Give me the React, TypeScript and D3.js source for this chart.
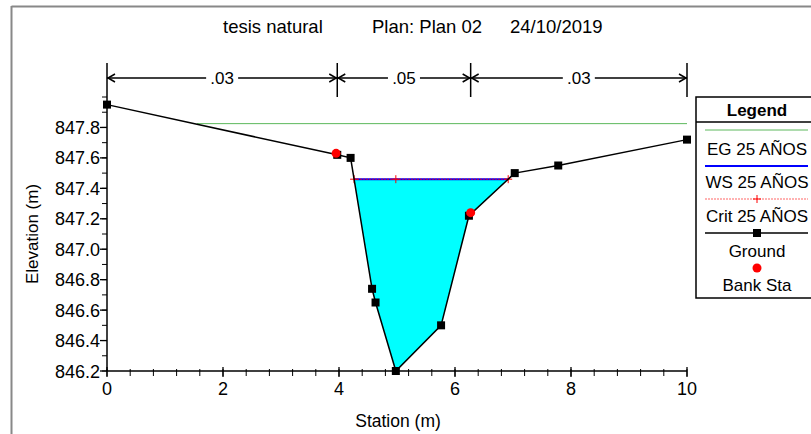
import React from "react";
import * as d3 from "d3";

const stations = [0, 3.97, 4.2, 4.57, 4.63, 4.98, 5.76, 6.24, 7.03, 7.78, 10];
const elevations = [847.95, 847.62, 847.6, 846.74, 846.65, 846.2, 846.5, 847.22, 847.5, 847.55, 847.72];
const bankStations = [3.95, 6.27];
const bankElevations = [847.63, 847.24];
const wsElev = 847.46;
const critElev = 847.46;
const critStations = [4.98];
const egElev = 847.825;
const egStart = 1.55;
const nValues = [".03", ".05", ".03"];
const nBreaks = [0, 3.97, 6.27, 10];
const xTickLabels = [0, 2, 4, 6, 8, 10];
const yTickLabels = [846.2, 846.4, 846.6, 846.8, 847.0, 847.2, 847.4, 847.6, 847.8];
const legendItems = ["EG 25 AÑOS", "WS 25 AÑOS", "Crit 25 AÑOS", "Ground", "Bank Sta"];

const FONT = "'Liberation Sans', Arial, sans-serif";

export default function App() {
  const x = d3.scaleLinear().domain([0, 10]).range([107, 687]);
  const y = d3.scaleLinear().domain([846.2, 848.0]).range([371, 97]);
  const ground = stations.map((s, i) => [s, elevations[i]] as [number, number]);
  const line = d3.line<[number, number]>().x(d => x(d[0])).y(d => y(d[1]));

  // water surface intersections
  const crossings: number[] = [];
  for (let i = 0; i < ground.length - 1; i++) {
    const [s0, e0] = ground[i];
    const [s1, e1] = ground[i + 1];
    if ((e0 - wsElev) * (e1 - wsElev) < 0) {
      const t = (wsElev - e0) / (e1 - e0);
      crossings.push(s0 + t * (s1 - s0));
    }
  }
  const wl = crossings[0];
  const wr = crossings[crossings.length - 1];
  const waterPts: [number, number][] = [[wl, wsElev]];
  ground.forEach(p => { if (p[0] > wl && p[0] < wr) waterPts.push(p); });
  waterPts.push([wr, wsElev]);

  const xMinor = d3.range(0, 10.001, 0.4);
  const yMinor = d3.range(846.2, 848.001, 0.1);
  const critPts = [wl, ...critStations, wr];

  const dimY = 78;
  const plus = (cx: number, cy: number, k: string) => (
    <g key={k} stroke="#ff0000" strokeWidth={1}>
      <line x1={cx - 4} x2={cx + 4} y1={cy} y2={cy} />
      <line x1={cx} x2={cx} y1={cy - 4} y2={cy + 4} />
    </g>
  );

  const lgX0 = 705, lgX1 = 808, lgC = 757;

  return (
    <div style={{ position: "absolute", left: 0, top: 0 }}>
      <svg width={811} height={434} style={{ display: "block", fontFamily: FONT }}>
        <rect x={0} y={0} width={811} height={434} fill="#fff" />
        {/* outer frame */}
        <line x1={11.5} x2={811} y1={6.5} y2={6.5} stroke="#888" strokeWidth={2} />
        <line x1={11.5} x2={11.5} y1={6} y2={434} stroke="#888" strokeWidth={2} />

        {/* title */}
        <text x={223} y={33} fontSize={18.5} fill="#000">tesis natural</text>
        <text x={372} y={33} fontSize={18.5} fill="#000">Plan: Plan 02</text>
        <text x={510} y={33} fontSize={18.5} fill="#000">24/10/2019</text>

        {/* dimension lines */}
        {nBreaks.map((b, i) => (
          <line key={"v" + i} x1={x(b)} x2={x(b)} y1={63} y2={97} stroke="#000" strokeWidth={1.5} />
        ))}
        {nValues.map((v, i) => {
          const a = x(nBreaks[i]);
          const b = x(nBreaks[i + 1]);
          const c = (a + b) / 2;
          const tw = 32;
          return (
            <g key={"n" + i}>
              <line x1={a} x2={c - tw / 2} y1={dimY} y2={dimY} stroke="#000" strokeWidth={1.3} />
              <line x1={c + tw / 2} x2={b} y1={dimY} y2={dimY} stroke="#000" strokeWidth={1.3} />
              <path d={`M${a + 8},${dimY - 4} L${a + 1},${dimY} L${a + 8},${dimY + 4}`} fill="none" stroke="#000" strokeWidth={1.5} />
              <path d={`M${b - 8},${dimY - 4} L${b - 1},${dimY} L${b - 8},${dimY + 4}`} fill="none" stroke="#000" strokeWidth={1.5} />
              <text x={c} y={dimY + 6} fontSize={17} textAnchor="middle" fill="#000">{v}</text>
            </g>
          );
        })}

        {/* water fill */}
        <path d={line(waterPts) + "Z"} fill="#00ffff" stroke="none" />

        {/* EG */}
        <line x1={x(egStart)} x2={x(10)} y1={y(egElev)} y2={y(egElev)} stroke="#5cb85c" strokeWidth={1} />
        {/* WS */}
        <line x1={x(wl)} x2={x(wr)} y1={y(wsElev)} y2={y(wsElev)} stroke="#0000ff" strokeWidth={2} />
        {/* Crit */}
        <line x1={x(wl)} x2={x(wr)} y1={y(critElev)} y2={y(critElev)} stroke="#ff0000" strokeWidth={1} strokeDasharray="2,1" opacity={0.8} />
        {critPts.map((s, i) => plus(x(s), y(critElev), "c" + i))}

        {/* ground */}
        <path d={line(ground) || ""} fill="none" stroke="#000" strokeWidth={1.5} />
        {ground.map((p, i) => (
          <rect key={"g" + i} x={x(p[0]) - 4} y={y(p[1]) - 4} width={8} height={8} fill="#000" />
        ))}
        {bankStations.map((s, i) => (
          <circle key={"b" + i} cx={x(s)} cy={y(bankElevations[i])} r={4.5} fill="#ff0000" />
        ))}

        {/* axes */}
        <line x1={107} x2={107} y1={97} y2={371} stroke="#000" strokeWidth={1.5} />
        <line x1={107} x2={687} y1={371} y2={371} stroke="#000" strokeWidth={1.5} />
        {xMinor.map((t, i) => (
          <line key={"xm" + i} x1={x(t)} x2={x(t)} y1={369} y2={376} stroke="#000" strokeWidth={1} />
        ))}
        {xTickLabels.map(t => (
          <g key={"xt" + t}>
            <line x1={x(t)} x2={x(t)} y1={367} y2={377} stroke="#000" strokeWidth={1.3} />
            <text x={x(t)} y={395} fontSize={18} textAnchor="middle" fill="#000">{t}</text>
          </g>
        ))}
        {yMinor.map((t, i) => (
          <line key={"ym" + i} x1={102} x2={107} y1={y(t)} y2={y(t)} stroke="#000" strokeWidth={1} />
        ))}
        {yTickLabels.map(t => (
          <g key={"yt" + t}>
            <line x1={100} x2={107} y1={y(t)} y2={y(t)} stroke="#000" strokeWidth={1.3} />
            <text x={100} y={y(t) + 6.5} fontSize={18} textAnchor="end" fill="#000">{t.toFixed(1)}</text>
          </g>
        ))}
        <text x={398} y={427} fontSize={17.5} textAnchor="middle" fill="#000">Station (m)</text>
        <text transform="translate(38,234) rotate(-90)" fontSize={17} textAnchor="middle" fill="#000">Elevation (m)</text>

        {/* legend */}
        <rect x={696} y={97} width={130} height={201} fill="#fff" stroke="#000" strokeWidth={1.5} />
        <line x1={696} x2={811} y1={122} y2={122} stroke="#000" strokeWidth={1.5} />
        <text x={lgC} y={116} fontSize={17} fontWeight="bold" textAnchor="middle" fill="#000">Legend</text>
        <line x1={lgX0} x2={lgX1} y1={130} y2={130} stroke="#5cb85c" strokeWidth={1} />
        <text x={lgC} y={155} fontSize={17} textAnchor="middle" fill="#000">{legendItems[0]}</text>
        <line x1={lgX0} x2={lgX1} y1={166} y2={166} stroke="#0000ff" strokeWidth={2} />
        <text x={lgC} y={188} fontSize={17} textAnchor="middle" fill="#000">{legendItems[1]}</text>
        <line x1={lgX0} x2={lgX1} y1={199} y2={199} stroke="#ff0000" strokeWidth={1} strokeDasharray="2,1" opacity={0.6} />
        {plus(lgC, 199, "lp")}
        <text x={lgC} y={222} fontSize={17} textAnchor="middle" fill="#000">{legendItems[2]}</text>
        <line x1={lgX0} x2={lgX1} y1={233} y2={233} stroke="#000" strokeWidth={1.5} />
        <rect x={lgC - 4} y={229} width={8} height={8} fill="#000" />
        <text x={lgC} y={257} fontSize={17} textAnchor="middle" fill="#000">{legendItems[3]}</text>
        <circle cx={lgC} cy={268} r={4.5} fill="#ff0000" />
        <text x={lgC} y={291} fontSize={17} textAnchor="middle" fill="#000">{legendItems[4]}</text>
      </svg>
    </div>
  );
}
